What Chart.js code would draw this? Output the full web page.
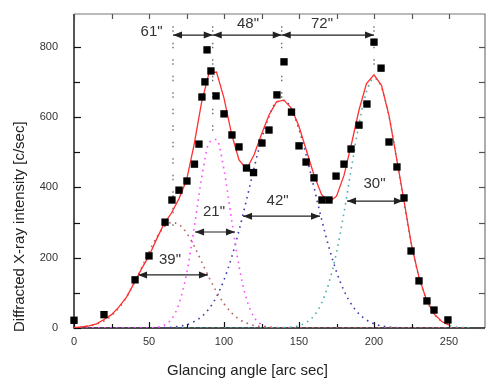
<!DOCTYPE html>
<html lang="en">
<head>
<meta charset="UTF-8">
<title>Glancing angle scan</title>
<script src="https://cdn.jsdelivr.net/npm/chart.js"></script>
<style>
  body { margin: 0; background: #fff; }
  #wrap { position: relative; width: 486px; height: 379px; }
</style>
</head>
<body>
<div id="wrap"><canvas id="grafico"></canvas></div>
<script>
// measured intensity (squares)
const measX = [0, 20, 40.7, 50, 60.7, 65.3, 70, 75.3, 80.3, 83.3, 85.3, 87.3, 88.7, 91.3, 94.7, 100, 105.3, 110, 115, 119.7,
    125.3, 130, 135.3, 140, 145, 150, 154.7, 160, 165.3, 170, 174.7, 180, 184.7, 190, 195.3, 200, 204.7, 210, 215.3, 220,
    224.7, 230, 235.3, 240, 249.3]
const measY = [22, 38, 137, 205, 301, 364, 392, 418, 466, 523, 657, 700, 791, 731, 660, 609, 549, 515, 455, 442,
    526, 563, 663, 757, 614, 518, 472, 427, 364, 364, 432, 466, 509, 577, 637, 813, 739, 529, 458, 370,
    219, 134, 77, 51, 23]

// fitted sum (red)
const fitX = [0, 5, 10, 15, 20, 25, 30, 35, 40, 45, 50, 55, 60, 65, 70, 75, 80, 85, 90, 95, 100, 105, 110, 115, 120, 125,
    130, 135, 140, 145, 150, 155, 160, 165, 170, 175, 180, 185, 190, 195, 200, 205, 210, 215, 220, 225, 230, 235, 240, 245, 250]
const fitY = [1, 3, 6, 12, 24, 38, 60, 88, 127, 168, 205, 252, 296, 327, 368, 420, 520, 640, 725, 728, 654, 553, 478, 452, 492, 551,
    606, 643, 648, 625, 573, 504, 435, 380, 358, 375, 434, 524, 620, 695, 720, 690, 604, 484, 362, 236, 144, 80, 40, 19, 8]

// fitted components (dotted)
const peak1X = [0, 5, 10, 15, 20, 25, 30, 35, 40, 45, 50, 55, 60, 65, 70, 75, 80, 85, 90, 95, 100, 105, 110, 115, 120, 125, 130, 135, 140, 260]
const peak1Y = [1, 3, 6, 11, 20, 35, 58, 88, 127, 171, 216, 257, 287, 300, 294, 271, 234, 189, 144, 103, 69, 43, 25, 14, 7, 4, 2, 1, 0, 0]
const peak2X = [0, 50, 55, 60, 65, 70, 75, 80, 85, 90, 95, 100, 105, 110, 115, 120, 125, 130, 135, 140, 260]
const peak2Y = [0, 0, 2, 8, 25, 69, 153, 281, 424, 526, 536, 450, 310, 176, 82, 31, 10, 3, 1, 0, 0]
const peak3X = [0, 50, 55, 60, 65, 70, 75, 80, 85, 90, 95, 100, 105, 110, 115, 120, 125, 130, 135, 140, 145, 150,
    155, 160, 165, 170, 175, 180, 185, 190, 195, 200, 205, 210, 215, 220, 260]
const peak3Y = [0, 0, 1, 1, 2, 5, 9, 18, 32, 55, 89, 137, 200, 277, 364, 454, 537, 602, 642, 647, 622, 566,
    488, 400, 310, 229, 160, 106, 67, 40, 23, 12, 6, 3, 1, 0, 0]
const peak4X = [0, 135, 140, 145, 150, 155, 160, 165, 170, 175, 180, 185, 190, 195, 200, 205, 210, 215, 220, 225,
    230, 235, 240, 245, 250, 255, 260, 265]
const peak4Y = [0, 0, 1, 3, 7, 16, 35, 70, 129, 215, 328, 457, 580, 672, 710, 684, 601, 483, 353, 236,
    144, 80, 40, 19, 8, 3, 1, 0]

// peak markers and widths
const markX = [66, 92.5, 138.5, 200]
const markTop = [858, 858, 858, 858]
const markBottom = [287, 555, 648, 720]
const arrowX1 = [66, 92.5, 138.5, 42.7, 80.7, 112.7, 182]
const arrowX2 = [92.5, 138.5, 200, 89.3, 107.3, 164, 219.3]
const arrowY = [833, 833, 833, 151, 273, 318, 361]
const noteText = ['61"', '48"', '72"', '39"', '21"', '42"', '30"']
const noteX = [51.7, 116, 165.3, 64, 93.3, 135.7, 200.3]
const noteY = [843, 865, 865, 193, 330, 361, 410]

const fonte = 'Liberation Sans, Arial, sans-serif'
Chart.defaults.font.family = fonte
// squares may overhang the frame, do not shrink the plot area for them
Chart.registry.getController('scatter').prototype.getMaxOverflow = function () { return 0 }

function pts(xs, ys) {
    return xs.map((x, i) => ({ x: x, y: ys[i] }))
}

function dotted(xs, ys, cor) {
    return {
        data: pts(xs, ys), showLine: true, pointRadius: 0, borderColor: cor, borderWidth: 1.6,
        borderDash: [1.6, 4.4], cubicInterpolationMode: 'monotone'
    }
}

const datasets = [
    { data: pts(measX, measY), pointStyle: 'rect', pointRadius: 5.2, backgroundColor: '#000', borderColor: '#000', borderWidth: 0, clip: false },
    { data: pts(fitX, fitY), showLine: true, pointRadius: 0, borderColor: '#ff3030', borderWidth: 1.3, tension: 0 }
]
arrowX1.forEach((x1, i) => {
    datasets.push({
        data: [{ x: x1, y: arrowY[i] }, { x: arrowX2[i], y: arrowY[i] }], arrow: true,
        showLine: true, pointRadius: 0, borderColor: '#222', borderWidth: 1.2
    })
})
markX.forEach((x, i) => {
    datasets.push({
        data: [{ x: x, y: markTop[i] }, { x: x, y: markBottom[i] }], showLine: true, pointRadius: 0,
        borderColor: '#555', borderWidth: 1.2, borderDash: [1.5, 2.5, 1.5, 11]
    })
})
datasets.push(dotted(peak1X, peak1Y, '#b8645f'))
datasets.push(dotted(peak2X, peak2Y, '#ff4dff'))
datasets.push(dotted(peak3X, peak3Y, '#3c3cb0'))
datasets.push(dotted(peak4X, peak4Y, '#4fb0b0'))

// frame with inward ticks on all four sides
const moldura = {
    id: 'moldura',
    beforeDatasetsDraw(chart) {
        const { ctx, chartArea: a, scales: { x, y } } = chart
        ctx.save()
        ctx.strokeStyle = '#777'
        ctx.lineWidth = 1.2
        ctx.beginPath()
        ctx.moveTo(a.left, a.top); ctx.lineTo(a.right, a.top); ctx.lineTo(a.right, a.bottom)
        ctx.stroke()
        ctx.strokeStyle = '#111'
        ctx.lineWidth = 1.4
        ctx.beginPath()
        ctx.moveTo(a.left, a.top); ctx.lineTo(a.left, a.bottom); ctx.lineTo(a.right, a.bottom)
        ctx.stroke()
        ctx.lineWidth = 1.2
        for (let v = 0; v <= x.max; v += 25) {
            const px = Math.round(x.getPixelForValue(v)) + 0.5
            const len = v % 50 === 0 ? 6 : 4
            ctx.strokeStyle = '#111'
            ctx.beginPath(); ctx.moveTo(px, a.bottom); ctx.lineTo(px, a.bottom - len); ctx.stroke()
            ctx.strokeStyle = '#555'
            ctx.beginPath(); ctx.moveTo(px, a.top); ctx.lineTo(px, a.top + 5); ctx.stroke()
        }
        for (let v = 0; v <= y.max; v += 100) {
            const py = Math.round(y.getPixelForValue(v)) + 0.5
            const len = v % 200 === 0 ? 7 : 6
            ctx.strokeStyle = '#111'
            ctx.beginPath(); ctx.moveTo(a.left, py); ctx.lineTo(a.left + len, py); ctx.stroke()
            ctx.strokeStyle = '#555'
            ctx.beginPath(); ctx.moveTo(a.right, py); ctx.lineTo(a.right - 6, py); ctx.stroke()
        }
        ctx.restore()
    }
}

// arrow heads, width labels and axis titles
const anotacoes = {
    id: 'anotacoes',
    afterDatasetsDraw(chart) {
        const { ctx, scales: { x, y } } = chart
        ctx.save()
        ctx.fillStyle = '#222'
        chart.data.datasets.forEach((ds, i) => {
            if (!ds.arrow) return
            const p = chart.getDatasetMeta(i).data
            ;[[p[0], -1], [p[1], 1]].forEach(([pt, dir]) => {
                ctx.beginPath()
                ctx.moveTo(pt.x, pt.y)
                ctx.lineTo(pt.x - dir * 9, pt.y - 3.5)
                ctx.lineTo(pt.x - dir * 9, pt.y + 3.5)
                ctx.closePath()
                ctx.fill()
            })
        })
        ctx.fillStyle = '#333'
        ctx.font = '15px ' + fonte
        ctx.textAlign = 'center'
        ctx.textBaseline = 'middle'
        noteText.forEach((t, i) => {
            ctx.fillText(t, x.getPixelForValue(noteX[i]), y.getPixelForValue(noteY[i]))
        })
        ctx.restore()
    },
    afterDraw(chart) {
        const { ctx, chartArea: a } = chart
        ctx.save()
        ctx.fillStyle = '#222'
        ctx.font = '15px ' + fonte
        ctx.textBaseline = 'alphabetic'
        ctx.textAlign = 'left'
        ctx.fillText('Glancing angle [arc sec]', a.left + 93, a.bottom + 47)
        ctx.translate(23.5, a.bottom + 4)
        ctx.rotate(-Math.PI / 2)
        ctx.fillText('Diffracted X-ray intensity [c/sec]', 0, 0)
        ctx.restore()
    }
}

new Chart(grafico, {
    type: 'scatter',
    data: { datasets: datasets },
    options: {
        responsive: true,
        maintainAspectRatio: false,
        animation: false,
        layout: { padding: { top: 14, right: 1, left: 0, bottom: 0 } },
        plugins: { legend: { display: false }, tooltip: { enabled: false } },
        scales: {
            x: {
                type: 'linear', min: 0, max: 274,
                grid: { display: false, drawTicks: false }, border: { display: false },
                ticks: { stepSize: 50, includeBounds: false, padding: 7, color: '#333', font: { size: 11 } },
                afterFit: (s) => { s.height = 51; s.paddingLeft = 0; s.paddingRight = 0 }
            },
            y: {
                type: 'linear', min: 0, max: 893,
                grid: { display: false, drawTicks: false }, border: { display: false },
                ticks: { stepSize: 200, includeBounds: false, padding: 16, color: '#333', font: { size: 11 } },
                afterFit: (s) => { s.width = 74; s.paddingTop = 0; s.paddingBottom = 0 }
            }
        }
    },
    plugins: [moldura, anotacoes]
})
</script>
</body>
</html>
